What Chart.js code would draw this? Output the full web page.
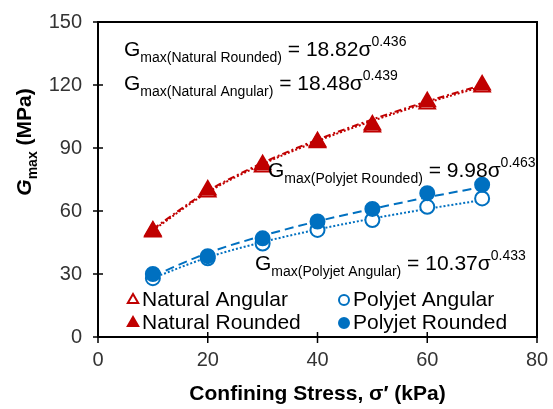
<!DOCTYPE html>
<html>
<head>
<meta charset="utf-8">
<script src="https://cdn.jsdelivr.net/npm/chart.js@4"></script>
<style>
  html, body { margin: 0; padding: 0; background: #fff; }
  #wrap { width: 553px; height: 409px; }
</style>
</head>
<body>
<div id="wrap"><canvas id="gmaxChart" width="553" height="409"></canvas></div>
<script>
// confining stress (kPa)
const stress = [10, 20, 30, 40, 50, 60, 70];

// measured Gmax (MPa)
const naturalAngular = [50, 69, 81, 92.5, 100, 111, 119];
const naturalRounded = [50.5, 70, 82, 93, 101, 112, 120];
const polyjetAngular = [28, 37.5, 44.5, 51, 55.7, 62, 66];
const polyjetRounded = [30, 38.5, 47, 55, 61, 68.5, 72.5];

// trend curves
const naturalAngularFit = [50.8, 68.9, 82.3, 93.3, 102.9, 111.5, 119.3];
const naturalRoundedFit = [51.4, 69.5, 82.9, 94, 103.6, 112.2, 120];
const polyjetAngularFit = [28.1, 37.9, 45.2, 51.2, 56.4, 61, 65.2];
const polyjetRoundedFit = [29, 40, 48.2, 55.1, 61, 66.5, 71.4];

const xTicks = [0, 20, 40, 60, 80];
const yTicks = [0, 30, 60, 90, 120, 150];

const RED = '#C00000';
const BLUE = '#0070C0';
const FONT = '"Liberation Sans", Arial, sans-serif';

function pts(ys) {
    return stress.map((x, i) => ({ x: x, y: ys[i] }));
}

function fitLine(ys, color, dash, order) {
    return {
        data: pts(ys),
        showLine: true,
        borderColor: color,
        borderWidth: 2,
        borderDash: dash,
        pointRadius: 0,
        cubicInterpolationMode: 'monotone',
        fill: false,
        order: order
    };
}

function markers(ys, style, color, filled, r, order) {
    return {
        data: pts(ys),
        showLine: false,
        pointStyle: style,
        pointRadius: r,
        pointBorderWidth: 2,
        pointBorderColor: color,
        pointBackgroundColor: filled ? color : '#fff',
        order: order
    };
}

// draws text made of pieces with their own font and vertical offset
function richText(ctx, x, y, parts) {
    let cx = x;
    parts.forEach(p => {
        ctx.font = p.font;
        ctx.fillText(p.text, cx, y + (p.dy || 0));
        cx += ctx.measureText(p.text).width;
    });
}

function richWidth(ctx, parts) {
    let w = 0;
    parts.forEach(p => {
        ctx.font = p.font;
        w += ctx.measureText(p.text).width;
    });
    return w;
}

function equation(ctx, x, y, name, coef, expo) {
    richText(ctx, x, y, [
        { text: 'G', font: '21px ' + FONT },
        { text: 'max(' + name + ')', font: '14px ' + FONT, dy: 6 },
        { text: ' = ' + coef + 'σ', font: '21px ' + FONT },
        { text: expo, font: '14px ' + FONT, dy: -10 }
    ]);
}

const decor = {
    id: 'decor',
    afterDatasetsDraw(chart) {
        const ctx = chart.ctx;
        const a = chart.chartArea;
        const xs = chart.scales.x, ys = chart.scales.y;
        ctx.save();
        ctx.strokeStyle = '#000';
        ctx.lineWidth = 2;
        ctx.strokeRect(a.left, a.top, a.right - a.left, a.bottom - a.top);
        ctx.lineWidth = 1.5;
        ctx.beginPath();
        yTicks.forEach(v => {
            const py = ys.getPixelForValue(v);
            ctx.moveTo(a.left - 5, py);
            ctx.lineTo(a.left + 5, py);
        });
        xTicks.forEach(v => {
            const px = xs.getPixelForValue(v);
            ctx.moveTo(px, a.bottom - 5);
            ctx.lineTo(px, a.bottom + 6);
        });
        ctx.stroke();

        ctx.fillStyle = '#000';
        ctx.textBaseline = 'alphabetic';
        ctx.textAlign = 'left';
        equation(ctx, 124, 56, 'Natural Rounded', '18.82', '0.436');
        equation(ctx, 124, 90, 'Natural Angular', '18.48', '0.439');
        equation(ctx, 268, 177, 'Polyjet Rounded', '9.98', '0.463');
        equation(ctx, 255, 270, 'Polyjet Angular', '10.37', '0.433');

        // legend
        const lf = '21px ' + FONT;
        ctx.font = lf;
        ctx.textBaseline = 'middle';
        const rows = [
            { x: 133, y: 299, label: 'Natural Angular', style: 'triangle', color: RED, filled: false },
            { x: 133, y: 322, label: 'Natural Rounded', style: 'triangle', color: RED, filled: true },
            { x: 344, y: 299, label: 'Polyjet Angular', style: 'circle', color: BLUE, filled: false },
            { x: 344, y: 322, label: 'Polyjet Rounded', style: 'circle', color: BLUE, filled: true }
        ];
        rows.forEach(r => {
            ctx.strokeStyle = r.color;
            ctx.fillStyle = r.filled ? r.color : '#fff';
            ctx.lineWidth = 2;
            Chart.helpers.drawPoint(ctx, { pointStyle: r.style, radius: r.style === 'triangle' ? 6 : 5, borderWidth: 2 }, r.x, r.y + 1);
            ctx.fillStyle = '#000';
            ctx.font = lf;
            ctx.fillText(r.label, r.x + 9, r.y + 1);
        });

        // axis titles
        ctx.textBaseline = 'alphabetic';
        ctx.textAlign = 'center';
        ctx.font = 'bold 21px ' + FONT;
        ctx.fillText('Confining Stress, σ′ (kPa)', (a.left + a.right) / 2, 400);

        ctx.textAlign = 'left';
        const yt = [
            { text: 'G', font: 'italic bold 21px ' + FONT },
            { text: 'max', font: 'bold 14px ' + FONT, dy: 6 },
            { text: ' (MPa)', font: 'bold 21px ' + FONT }
        ];
        ctx.translate(31, 142);
        ctx.rotate(-Math.PI / 2);
        richText(ctx, -richWidth(ctx, yt) / 2, 0, yt);
        ctx.restore();
    }
};

const ctx1 = document.getElementById('gmaxChart');

new Chart(ctx1, {
    type: 'scatter',
    data: {
        datasets: [
            markers(polyjetRounded, 'circle', BLUE, true, 7, 1),
            markers(polyjetAngular, 'circle', BLUE, false, 7, 2),
            markers(naturalRounded, 'triangle', RED, true, 9, 3),
            markers(naturalAngular, 'triangle', RED, false, 9, 4),
            fitLine(polyjetRoundedFit, BLUE, [9, 5], 5),
            fitLine(polyjetAngularFit, BLUE, [2, 2], 6),
            fitLine(naturalRoundedFit, RED, [7, 3, 2, 3], 7),
            fitLine(naturalAngularFit, RED, [2, 2], 8)
        ]
    },
    options: {
        responsive: false,
        animation: false,
        layout: {
            padding: { left: 0, top: 22, right: 16, bottom: 0 }
        },
        scales: {
            x: {
                type: 'linear',
                min: 0,
                max: 80,
                afterBuildTicks: s => { s.ticks = xTicks.map(v => ({ value: v })); },
                afterFit: s => { s.height = 72; s.paddingLeft = 0; s.paddingRight = 0; },
                grid: { display: false, drawTicks: false },
                border: { display: false },
                ticks: { padding: 11, color: '#333', font: { size: 20, family: FONT } }
            },
            y: {
                type: 'linear',
                min: 0,
                max: 150,
                afterBuildTicks: s => { s.ticks = yTicks.map(v => ({ value: v })); },
                afterFit: s => { s.width = 98; s.paddingTop = 0; s.paddingBottom = 0; },
                grid: { display: false, drawTicks: false },
                border: { display: false },
                ticks: { padding: 16, color: '#333', font: { size: 20, family: FONT } }
            }
        },
        plugins: {
            legend: { display: false },
            tooltip: { enabled: false }
        }
    },
    plugins: [decor]
});
</script>
</body>
</html>
